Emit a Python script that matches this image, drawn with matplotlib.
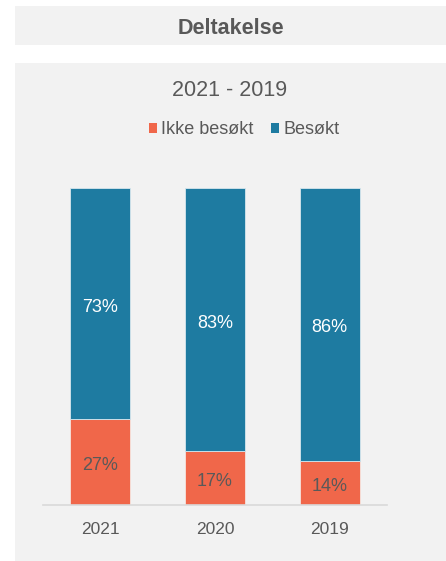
"""Deltakelse: stacked share of visited / not visited per year."""

import matplotlib

matplotlib.use("Agg")
import matplotlib.pyplot as plt
from matplotlib.patches import Patch, Rectangle

YEARS = ["2021", "2020", "2019"]
IKKE_BESOKT = [27, 17, 14]
BESOKT = [73, 83, 86]
SERIES_NAMES = ["Ikke besøkt", "Besøkt"]

HEADER = "Deltakelse"
TITLE = "2021 - 2019"

ORANGE = "#f0674a"
BLUE = "#1e7ba1"
PANEL_BG = "#f2f2f2"
TEXT = "#595959"

W, H = 446, 561

plt.rcParams["font.family"] = ["Liberation Sans", "DejaVu Sans"]

fig = plt.figure(figsize=(W / 100, H / 100), dpi=100)
fig.patch.set_facecolor("white")


def fx(px):
    return px / W


def fy(py):
    return 1 - py / H


# header box and panel background (behind the axes)
fig.patches.append(Rectangle((fx(15), fy(45)), fx(431), 39 / H, transform=fig.transFigure,
                             facecolor=PANEL_BG, edgecolor="none", zorder=-5))
fig.patches.append(Rectangle((fx(15), 0), fx(431), 498 / H, transform=fig.transFigure,
                             facecolor=PANEL_BG, edgecolor="none", zorder=-5))
fig.text(fx(230.5), fy(28.5), HEADER, ha="center", va="center", fontsize=15.5,
         fontweight="bold", color=TEXT)
fig.text(fx(230), fy(90.5), TITLE, ha="center", va="center", fontsize=15.5, color=TEXT)

ax = fig.add_axes([fx(43), fy(505), fx(344), 317 / H])
ax.set_facecolor("none")

x = list(range(len(YEARS)))
ax.bar(x, [v / 100 for v in IKKE_BESOKT], width=60 / 115, color=ORANGE,
       edgecolor="#f7e3de", linewidth=0.6)
ax.bar(x, [v / 100 for v in BESOKT], width=60 / 115,
       bottom=[v / 100 for v in IKKE_BESOKT], color=BLUE,
       edgecolor="#d6e6ee", linewidth=0.6)

# label offset ~3.5 px downward
dy = 3.5 / 317
for i in x:
    lo = IKKE_BESOKT[i] / 100
    hi = BESOKT[i] / 100
    ax.text(i, lo / 2 - dy, f"{IKKE_BESOKT[i]}%", ha="center", va="center",
            fontsize=13, color=TEXT)
    ax.text(i, lo + hi / 2 - dy, f"{BESOKT[i]}%", ha="center", va="center",
            fontsize=13, color="white")

ax.set_xlim(-0.5, 2.5)
ax.set_ylim(0, 1)
ax.set_xticks(x)
ax.set_xticklabels(YEARS, fontsize=12.5, color=TEXT)
ax.tick_params(axis="x", length=0, pad=12)
ax.set_yticks([])
for side in ("top", "left", "right"):
    ax.spines[side].set_visible(False)
ax.spines["bottom"].set_color("#d9d9d9")
ax.spines["bottom"].set_linewidth(1.2)

handles = [Patch(facecolor=ORANGE, edgecolor="none"), Patch(facecolor=BLUE, edgecolor="none")]
leg = fig.legend(handles, SERIES_NAMES, loc="center", bbox_to_anchor=(fx(244), fy(129.5)),
                 ncol=2, frameon=False, fontsize=13, handlelength=0.47, handleheight=0.47,
                 handletextpad=0.22, columnspacing=0.95, borderpad=0)
for t in leg.get_texts():
    t.set_color(TEXT)

fig.savefig("out.png", dpi=100)
